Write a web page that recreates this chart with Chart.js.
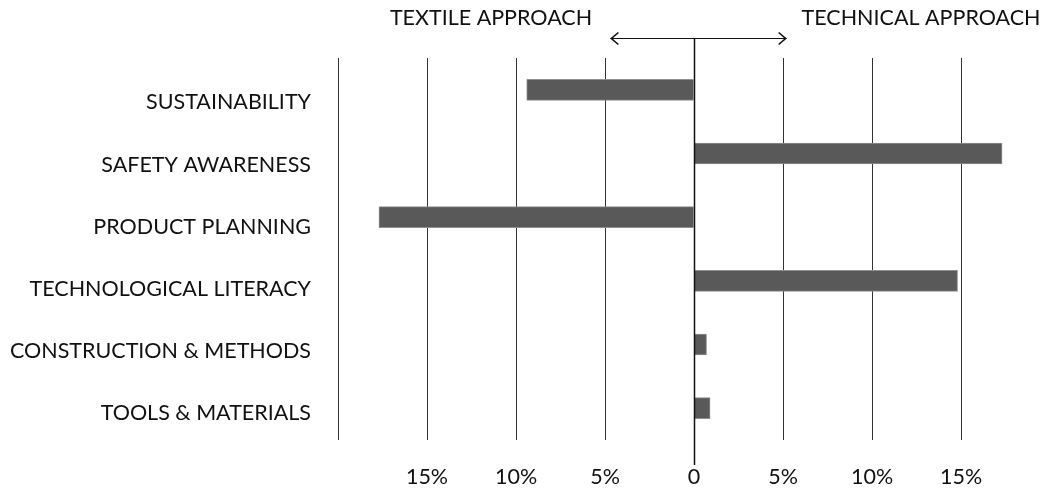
<!DOCTYPE html>
<html>
<head>
<meta charset="utf-8">
<script src="https://cdn.jsdelivr.net/npm/chart.js@4/dist/chart.umd.min.js"></script>
<style>
  html, body { margin: 0; padding: 0; background: #fff; }
  #wrap { width: 1043px; height: 493px; }
</style>
</head>
<body>
<div id="wrap"><canvas id="chart"></canvas></div>
<script>
const categories = [
  'SUSTAINABILITY',
  'SAFETY AWARENESS',
  'PRODUCT PLANNING',
  'TECHNOLOGICAL LITERACY',
  'CONSTRUCTION & METHODS',
  'TOOLS & MATERIALS'
];
// negative = textile approach, positive = technical approach (%)
const scores = [-9.4, 17.3, -17.7, 14.8, 0.7, 0.9];
const leftTitle = 'TEXTILE APPROACH';
const rightTitle = 'TECHNICAL APPROACH';

const FONT = 'Lato, "Open Sans", sans-serif';
const FONT_SIZE = 21.5;

// range of the name axis, so the names sit a bit below the bars
const NAMES_MIN = -0.717;
const NAMES_MAX = 5.434;

// headings, double arrow and the long zero line
const decor = {
  id: 'decor',
  afterDraw(chart) {
    const ctx = chart.ctx;
    const x = chart.scales.x;
    const x0 = Math.round(x.getPixelForValue(0)) + 0.5;
    ctx.save();
    ctx.strokeStyle = '#111';
    ctx.lineWidth = 1.5;
    ctx.beginPath();
    ctx.moveTo(x0, 38);
    ctx.lineTo(x0, 465);
    ctx.stroke();

    // arrow
    const ax1 = x.getPixelForValue(-4.7), ax2 = x.getPixelForValue(5.2), ay = 38.5;
    ctx.lineWidth = 1;
    ctx.beginPath();
    ctx.moveTo(ax1, ay); ctx.lineTo(ax2, ay);
    ctx.stroke();
    ctx.lineWidth = 1.6;
    ctx.beginPath();
    ctx.moveTo(ax1 + 8, ay - 6); ctx.lineTo(ax1 + 1, ay); ctx.lineTo(ax1 + 8, ay + 6);
    ctx.moveTo(ax2 - 8, ay - 6); ctx.lineTo(ax2 - 1, ay); ctx.lineTo(ax2 - 8, ay + 6);
    ctx.stroke();

    ctx.fillStyle = '#111';
    ctx.font = FONT_SIZE + 'px ' + FONT;
    ctx.textAlign = 'center';
    ctx.textBaseline = 'middle';
    ctx.fillText(leftTitle, 491, 18);
    ctx.fillText(rightTitle, 921, 18);
    ctx.restore();
  }
};

new Chart(document.getElementById('chart'), {
  type: 'bar',
  data: {
    labels: categories,
    datasets: [{
      data: scores,
      backgroundColor: '#595959',
      borderColor: '#8f8f8f',
      borderWidth: 1,
      borderSkipped: 'start',
      barThickness: 21
    }]
  },
  options: {
    indexAxis: 'y',
    responsive: true,
    maintainAspectRatio: false,
    animation: false,
    layout: { padding: { top: 58, right: 0, left: 0, bottom: 0 } },
    plugins: { legend: { display: false }, tooltip: { enabled: false } },
    scales: {
      x: {
        min: -20,
        max: 19.6,
        afterBuildTicks: axis => { axis.ticks = axis.ticks.filter(t => t.value % 5 === 0); },
        afterFit: axis => { axis.height = 53; },
        border: { display: false },
        grid: { color: '#333', lineWidth: 1, drawTicks: false },
        ticks: {
          stepSize: 5,
          padding: 24,
          color: '#111',
          font: { family: FONT, size: FONT_SIZE },
          callback: v => v === -20 ? '' : v === 0 ? '0' : Math.abs(v) + '%'
        }
      },
      y: { display: false },
      names: {
        type: 'linear',
        position: 'left',
        reverse: true,
        offset: false,
        bounds: 'data',
        min: NAMES_MIN,
        max: NAMES_MAX,
        afterBuildTicks: axis => {
          axis.ticks = categories.map((c, i) => ({ value: i }));
        },
        afterFit: axis => { axis.width = 338; },
        border: { display: false },
        grid: { display: false, drawTicks: false, offset: false },
        ticks: {
          padding: 27,
          color: '#111',
          font: { family: FONT, size: FONT_SIZE },
          callback: v => categories[v]
        }
      }
    }
  },
  plugins: [decor]
});
</script>
</body>
</html>
